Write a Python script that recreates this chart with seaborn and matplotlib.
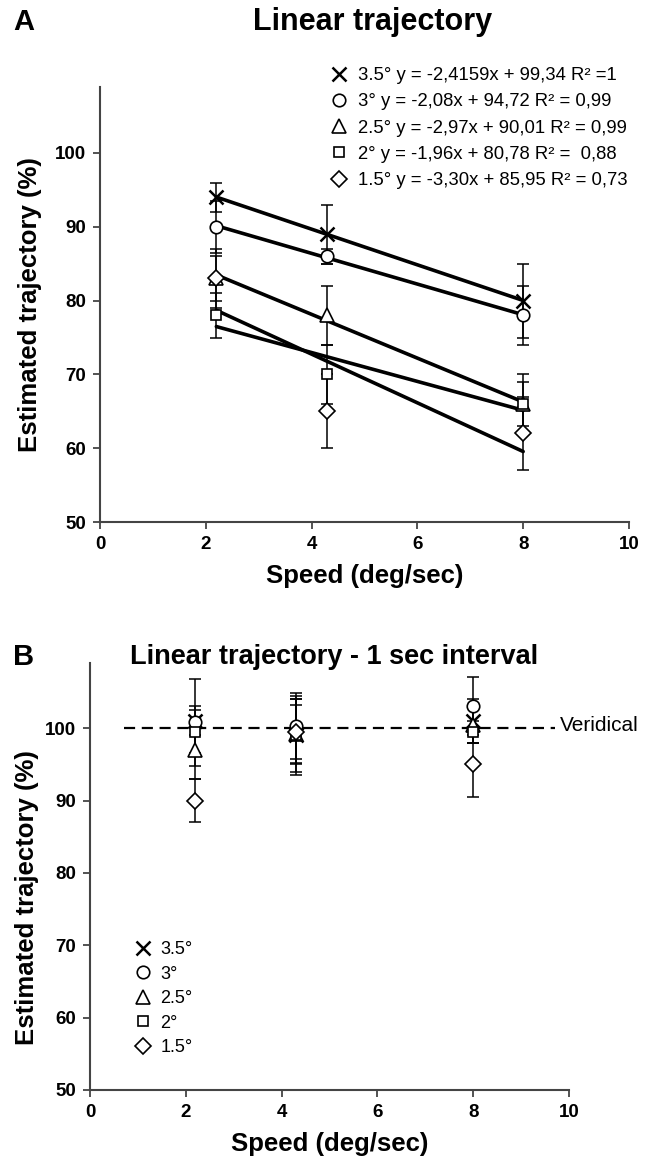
import seaborn as sns
import matplotlib.pyplot as plt
import pandas as pd
from matplotlib.lines import Line2D

# speeds (deg/sec)
speeds = [2.2, 4.3, 8.0]
sizes = ['3.5°', '3°', '2.5°', '2°', '1.5°']

# panel A: linear trajectory
a_vals = {
    '3.5°': [94, 89, 80],
    '3°': [90, 86, 78],
    '2.5°': [83, 78, 66],
    '2°': [78, 70, 66],
    '1.5°': [83, 65, 62],
}
a_err = {
    '3.5°': [2, 4, 5],
    '3°': [3.5, 1, 4],
    '2.5°': [4, 4, 4],
    '2°': [3, 4, 3],
    '1.5°': [3, 5, 5],
}
a_eq = [
    'y = -2,4159x + 99,34 R² =1',
    'y = -2,08x + 94,72 R² = 0,99',
    'y = -2,97x + 90,01 R² = 0,99',
    'y = -1,96x + 80,78 R² =  0,88',
    'y = -3,30x + 85,95 R² = 0,73',
]

# panel B: 1 sec interval
b_vals = {
    '3.5°': [101, 99, 101],
    '3°': [100.8, 100.3, 103],
    '2.5°': [97, 99.2, 100.5],
    '2°': [99.5, 99, 99.5],
    '1.5°': [90, 99.5, 95],
}
b_err = {
    '3.5°': [2, 5, 3],
    '3°': [6, 4.5, 4],
    '2.5°': [4, 4, 2.5],
    '2°': [3, 5.5, 1.5],
    '1.5°': [3, 4.5, 4.5],
}

markers = {'3.5°': 'x', '3°': 'o', '2.5°': '^', '2°': 's', '1.5°': 'D'}
msizes = {'3.5°': 10, '3°': 9, '2.5°': 10, '2°': 7.5, '1.5°': 8}

sns.set_style('ticks')
plt.rcParams['font.family'] = ['Liberation Sans', 'DejaVu Sans']
plt.rcParams['text.color'] = 'black'
plt.rcParams['axes.labelcolor'] = 'black'
plt.rcParams['xtick.labelcolor'] = 'black'
plt.rcParams['ytick.labelcolor'] = 'black'

GREY = '#444444'

fig = plt.figure(figsize=(6.56, 11.65), dpi=100)
ax_a = fig.add_axes([0.1524, 0.5519, 0.8064, 0.3738])
ax_b = fig.add_axes([0.1372, 0.0644, 0.7302, 0.3665])


def style_axes(ax):
    for s in ['top', 'right']:
        ax.spines[s].set_visible(False)
    for s in ['left', 'bottom']:
        ax.spines[s].set_color(GREY)
        ax.spines[s].set_linewidth(1.5)
    ax.set_xlim(0, 10)
    ax.set_ylim(50, 109)
    ax.set_xticks(range(0, 11, 2))
    ax.set_yticks(range(50, 101, 10))
    ax.tick_params(direction='out', length=5, width=1.3, color=GREY,
                   labelsize=13.5, pad=5)
    for lab in ax.get_xticklabels() + ax.get_yticklabels():
        lab.set_fontweight('bold')
    ax.set_xlabel('Speed (deg/sec)', fontsize=18.5, fontweight='bold', labelpad=8)
    ax.set_ylabel('Estimated trajectory (%)', fontsize=18.5, fontweight='bold', labelpad=9)


def draw_points(ax, vals, errs):
    for s in sizes:
        ax.errorbar(speeds, vals[s], yerr=errs[s], fmt='none', ecolor='black',
                    elinewidth=1.1, capsize=4.5, capthick=1.1, zorder=2)
        ax.plot(speeds, vals[s], linestyle='none', marker=markers[s],
                markersize=msizes[s], markerfacecolor='white' if s != '3.5°' else 'none',
                markeredgecolor='black', markeredgewidth=1.2 if s != '3.5°' else 1.8,
                zorder=4)


def legend_handles():
    return [Line2D([], [], linestyle='none', marker=markers[s], markersize=msizes[s],
                   markerfacecolor='none', markeredgecolor='black',
                   markeredgewidth=1.2 if s != '3.5°' else 1.8) for s in sizes]


# ---- panel A ----
df_a = pd.DataFrame([(s, x, y) for s in sizes for x, y in zip(speeds, a_vals[s])],
                    columns=['size', 'speed', 'est'])
for s in sizes:
    sns.regplot(data=df_a[df_a['size'] == s], x='speed', y='est', ax=ax_a,
                scatter=False, ci=None, truncate=True, color='black',
                line_kws={'linewidth': 2.6, 'zorder': 3})
draw_points(ax_a, a_vals, a_err)
style_axes(ax_a)

labels_a = [f'{s} {eq}' for s, eq in zip(sizes, a_eq)]
ax_a.legend(legend_handles(), labels_a, loc='upper left', bbox_to_anchor=(0.417, 1.066),
            frameon=False, fontsize=13.3, handlelength=1.0, handletextpad=0.55,
            labelspacing=0.5, borderpad=0)

# ---- panel B ----
draw_points(ax_b, b_vals, b_err)
ax_b.plot([0.7, 9.7], [100, 100], color='black', linestyle=(0, (5, 3)),
          linewidth=1.6, zorder=1)
ax_b.text(9.8, 100.4, 'Veridical', fontsize=15, va='center', ha='left')
style_axes(ax_b)
ax_b.yaxis.set_label_coords(-0.107, 0.45)

ax_b.legend(legend_handles(), sizes, loc='upper left', bbox_to_anchor=(0.072, 0.37),
            frameon=False, fontsize=13, handlelength=1.0, handletextpad=0.5,
            labelspacing=0.42, borderpad=0)

# titles and panel letters
fig.text(0.568, 0.981, 'Linear trajectory', fontsize=22, fontweight='bold',
         ha='center', va='center')
fig.text(0.02, 0.981, 'A', fontsize=21, fontweight='bold', ha='left', va='center')
fig.text(0.509, 0.436, 'Linear trajectory - 1 sec interval', fontsize=19.5,
         fontweight='bold', ha='center', va='center')
fig.text(0.02, 0.436, 'B', fontsize=21, fontweight='bold', ha='left', va='center')

fig.savefig('out.png', dpi=100)
